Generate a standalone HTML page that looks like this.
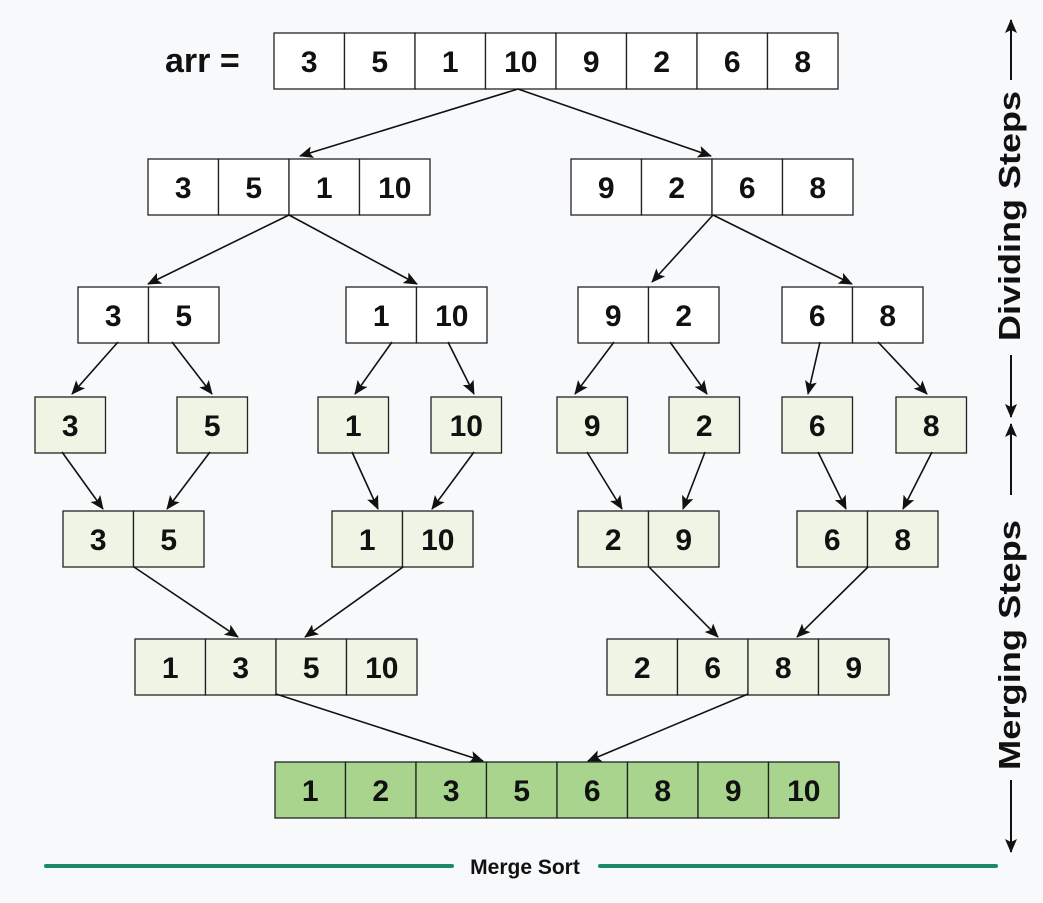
<!DOCTYPE html>
<html><head><style>
html,body{margin:0;padding:0;background:#f8f9fb;}
svg{display:block;}
text{font-family:"Liberation Sans",sans-serif;font-weight:bold;fill:#111;}
</style></head><body>
<svg width="1043" height="903" viewBox="0 0 1043 903" xmlns="http://www.w3.org/2000/svg">
<defs>
<marker id="ah2" markerWidth="14" markerHeight="14" refX="13" refY="7" orient="auto" markerUnits="userSpaceOnUse" viewBox="0 0 14 14">
<path d="M0,1 L14,7 L0,13 L3,7 z" fill="#111"/>
</marker>
</defs>
<rect width="1043" height="903" fill="#f8f9fb"/>
<text x="165" y="72" font-size="34">arr =</text>
<g id="cells" stroke="#222" stroke-width="1.3" font-size="30" text-anchor="middle"></g>
<g stroke="#111" stroke-width="1.6" fill="none" marker-end="url(#ah2)">
<line x1="518" y1="89" x2="300" y2="156"/><line x1="518" y1="89" x2="711" y2="156"/>
<line x1="289" y1="215" x2="148" y2="284"/><line x1="289" y1="215" x2="417" y2="284"/>
<line x1="713" y1="215" x2="652" y2="282"/><line x1="713" y1="215" x2="852" y2="284"/>
<line x1="118" y1="342" x2="72" y2="394"/><line x1="172" y1="342" x2="212" y2="394"/>
<line x1="392" y1="342" x2="355" y2="394"/><line x1="448" y1="342" x2="474" y2="394"/>
<line x1="614" y1="342" x2="575" y2="394"/><line x1="670" y1="342" x2="707" y2="394"/>
<line x1="820" y1="342" x2="808" y2="394"/><line x1="878" y1="342" x2="927" y2="394"/>
<line x1="62" y1="452" x2="103" y2="509"/><line x1="210" y1="452" x2="167" y2="509"/>
<line x1="352" y1="452" x2="378" y2="509"/><line x1="474" y1="452" x2="432" y2="509"/>
<line x1="587" y1="452" x2="622" y2="509"/><line x1="705" y1="452" x2="683" y2="509"/>
<line x1="818" y1="452" x2="846" y2="509"/><line x1="932" y1="452" x2="903" y2="509"/>
<line x1="134" y1="567" x2="238" y2="637"/><line x1="403" y1="567" x2="305" y2="637"/>
<line x1="649" y1="567" x2="718" y2="637"/><line x1="868" y1="567" x2="797" y2="637"/>
<line x1="276" y1="694" x2="483" y2="761"/><line x1="748" y1="694" x2="588" y2="761"/>
</g>
<g stroke="#111" stroke-width="2" marker-end="url(#ah2)">
<line x1="1011" y1="80" x2="1011" y2="20"/>
<line x1="1011" y1="355" x2="1011" y2="417"/>
<line x1="1011" y1="495" x2="1011" y2="424"/>
<line x1="1011" y1="780" x2="1011" y2="852"/>
</g>
<text transform="translate(1020,216) rotate(-90)" font-size="31" text-anchor="middle" textLength="250" lengthAdjust="spacingAndGlyphs">Dividing Steps</text>
<text transform="translate(1020,645) rotate(-90)" font-size="31" text-anchor="middle" textLength="250" lengthAdjust="spacingAndGlyphs">Merging Steps</text>
<line x1="46" y1="866" x2="452" y2="866" stroke="#1a8a6a" stroke-width="4" stroke-linecap="round"/>
<line x1="600" y1="866" x2="996" y2="866" stroke="#1a8a6a" stroke-width="4" stroke-linecap="round"/>
<text x="525" y="874" font-size="21" text-anchor="middle">Merge Sort</text>
</svg>
<script>
(function(){
var g=document.getElementById('cells');var ns='http://www.w3.org/2000/svg';
function arr(x,y,vals,fill){var w=70.5;for(var i=0;i<vals.length;i++){var r=document.createElementNS(ns,'rect');r.setAttribute('x',x+i*w);r.setAttribute('y',y);r.setAttribute('width',w);r.setAttribute('height',56);r.setAttribute('fill',fill);g.appendChild(r);var t=document.createElementNS(ns,'text');t.setAttribute('x',x+i*w+w/2);t.setAttribute('y',y+39);t.setAttribute('stroke','none');t.textContent=vals[i];g.appendChild(t);}}
var W='#ffffff',L='#eef5e4',D='#a8d48d';
arr(274,33,[3,5,1,10,9,2,6,8],W);
arr(148,159,[3,5,1,10],W);arr(571,159,[9,2,6,8],W);
arr(78,287,[3,5],W);arr(346,287,[1,10],W);arr(578,287,[9,2],W);arr(782,287,[6,8],W);
arr(35,397,[3],L);arr(177,397,[5],L);arr(318,397,[1],L);arr(431,397,[10],L);arr(557,397,[9],L);arr(669,397,[2],L);arr(782,397,[6],L);arr(896,397,[8],L);
arr(63,511,[3,5],L);arr(332,511,[1,10],L);arr(578,511,[2,9],L);arr(797,511,[6,8],L);
arr(135,639,[1,3,5,10],L);arr(607,639,[2,6,8,9],L);
arr(275,762,[1,2,3,5,6,8,9,10],D);
})();
</script>
</body></html>
